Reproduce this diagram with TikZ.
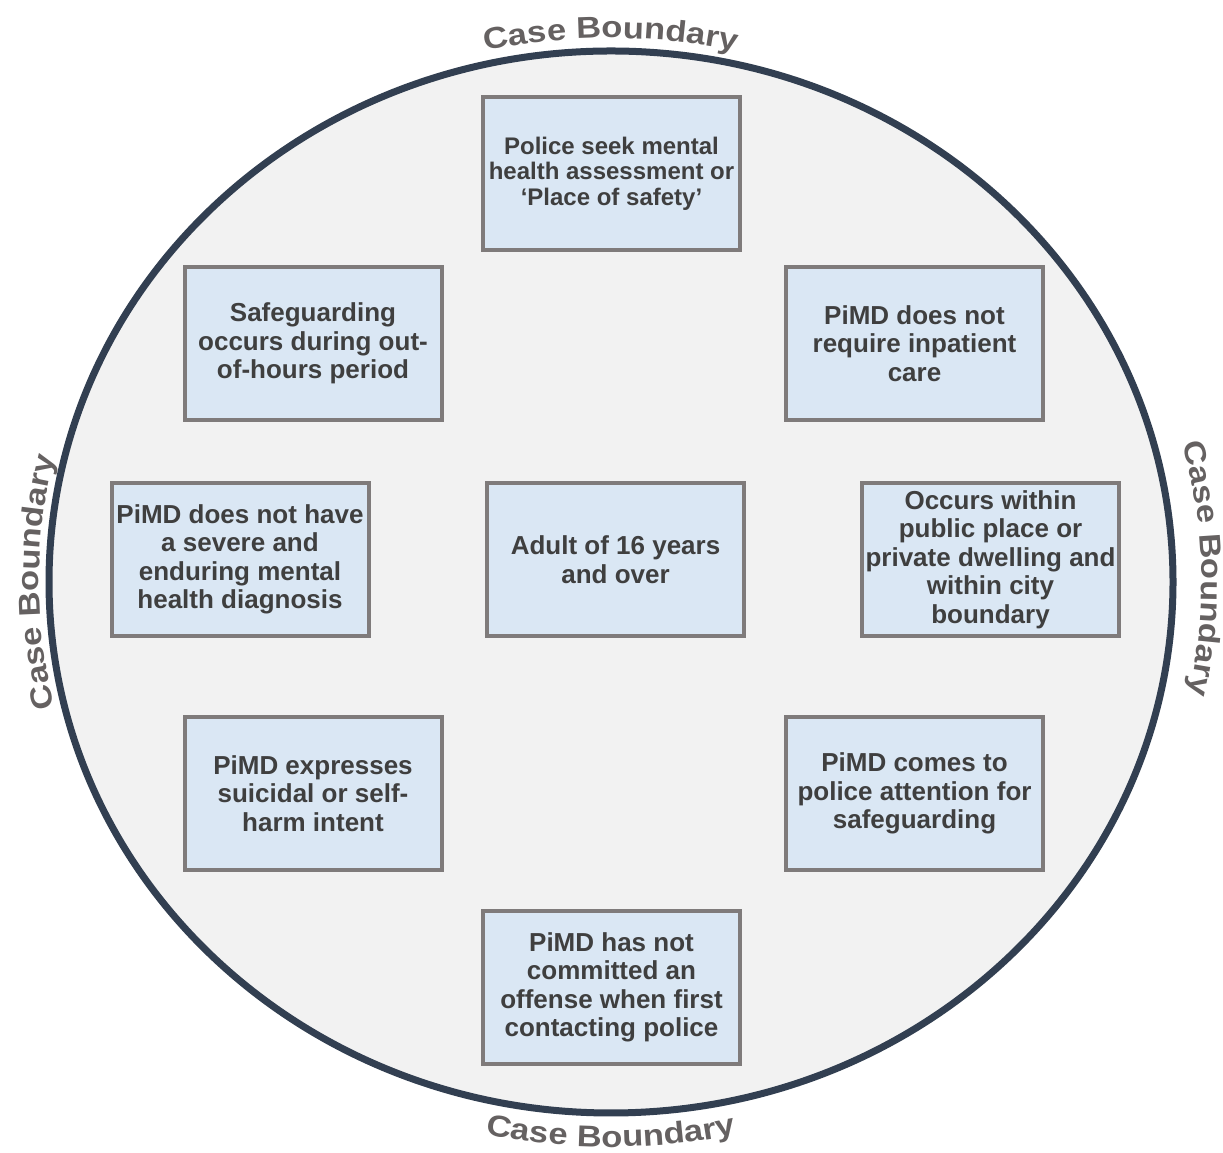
\documentclass[tikz,border=0pt]{standalone}
\usepackage{fontspec}
\setmainfont{Liberation Sans}
\newfontfamily\widesans[FakeStretch=1.15]{Liberation Sans}
\usetikzlibrary{decorations.text}

\definecolor{ringfill}{HTML}{F2F2F2}
\definecolor{ringline}{HTML}{323F51}
\definecolor{boxfill}{HTML}{DAE7F4}
\definecolor{boxline}{HTML}{7F7B7B}
\definecolor{boxtext}{HTML}{3F3F3F}
\definecolor{labeltext}{HTML}{656161}

\newcommand{\boundaryfont}{\widesans\fontsize{30}{30}\selectfont\bfseries\color{labeltext}}

\begin{document}
\begin{tikzpicture}[x=1pt,y=1pt,
  crit/.style={draw=boxline, fill=boxfill, line width=4pt,
    minimum width=257pt, minimum height=153pt, inner sep=0pt,
    align=center, text=boxtext,
    font=\fontsize{26}{28.5}\selectfont\bfseries},
  critsmall/.style={crit, font=\fontsize{24}{25.5}\selectfont\bfseries},
  ring/.style={draw=ringline, fill=ringfill, line width=7pt},
  boundary/.style={decorate, decoration={text along path,
    text={|\boundaryfont|Case Boundary}, text align=center}}
]
\useasboundingbox (0,0) rectangle (1223,1153);

% case boundary ring
\coordinate (ctr) at (611,571);
\draw[ring] (ctr) ellipse [x radius=562, y radius=531];

% boundary labels along the ring
\path[boundary] (36,571) arc[start angle=180, end angle=0, x radius=575, y radius=544];
\path[boundary] (18,571) arc[start angle=180, end angle=360, x radius=593, y radius=565];
\path[boundary] (611,35) arc[start angle=270, end angle=90, x radius=572, y radius=536];
\path[boundary] (611,1107) arc[start angle=92.6, end angle=-90, x radius=565, y radius=536];

% criteria
\node[critsmall] (police) at (611.5,979.5) {Police seek mental\\health assessment or\\‘Place of safety’};
\node[crit] (hours) at (313,809.5) {Safeguarding\\occurs during out-\\of-hours period};
\node[crit] (inpatient) at (914.5,809.5) {PiMD does not\\require inpatient\\care};
\node[crit] (diagnosis) at (240,593.5) {PiMD does not have\\a severe and\\enduring mental\\health diagnosis};
\node[crit] (adult) at (615.5,593.5) {Adult of 16 years\\and over};
\node[crit] (place) at (990.5,593.5) {Occurs within\\public place or\\private dwelling and\\within city\\boundary};
\node[crit] (suicidal) at (313,359.5) {PiMD expresses\\suicidal or self-\\harm intent};
\node[crit] (attention) at (914.5,359.5) {PiMD comes to\\police attention for\\safeguarding};
\node[crit] (offense) at (611.5,165.5) {PiMD has not\\committed an\\offense when first\\contacting police};
\end{tikzpicture}
\end{document}
